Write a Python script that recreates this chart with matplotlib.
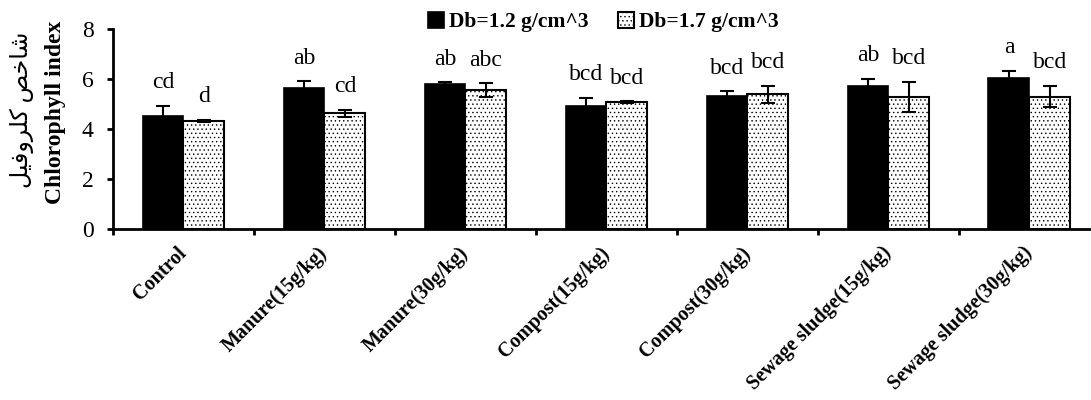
import numpy as np
import matplotlib.pyplot as plt

plt.rcParams['font.family'] = ['Liberation Serif', 'DejaVu Sans']
plt.rcParams['hatch.linewidth'] = 0.5

# data
treatments = ['Control', 'Manure(15g/kg)', 'Manure(30g/kg)', 'Compost(15g/kg)',
              'Compost(30g/kg)', 'Sewage sludge(15g/kg)', 'Sewage sludge(30g/kg)']
db12 = [4.53, 5.63, 5.79, 4.92, 5.32, 5.73, 6.05]
db12_err = [0.39, 0.29, 0.08, 0.33, 0.20, 0.28, 0.28]
db17 = [4.32, 4.63, 5.56, 5.09, 5.39, 5.29, 5.29]
db17_err = [0.05, 0.15, 0.27, 0.03, 0.33, 0.60, 0.43]
letters12 = ['cd', 'ab', 'ab', 'bcd', 'bcd', 'ab', 'a']
letters17 = ['d', 'cd', 'abc', 'bcd', 'bcd', 'bcd', 'bcd']

# Persian label "شاخص کلروفیل" in presentation forms, visual order
fa_label = '\uFEDE\uFEF4\uFED3\uFEED\uFEAE\uFEE0\uFEDB \uFEBA\uFEA7\uFE8E\uFEB7'

fig = plt.figure(figsize=(10.91, 4.0), dpi=100)
ax = fig.add_axes([113 / 1091, 1 - 229 / 400, 977 / 1091, 200 / 400])

x = np.arange(len(treatments))
w = 0.29
ax.bar(x - w / 2, db12, w, color='black', edgecolor='black', linewidth=1.2,
       label='Db=1.2 g/cm^3')
ax.bar(x + w / 2, db17, w, color='white', edgecolor='black', linewidth=1.5,
       hatch='....', label='Db=1.7 g/cm^3')
ax.errorbar(x - w / 2, db12, yerr=db12_err, fmt='none', ecolor='black',
            elinewidth=1.5, capsize=5, capthick=1.5)
ax.errorbar(x + w / 2, db17, yerr=db17_err, fmt='none', ecolor='black',
            elinewidth=1.5, capsize=5, capthick=1.5)

for i in range(len(treatments)):
    ax.text(x[i] - w / 2, db12[i] + db12_err[i] + 0.7, letters12[i],
            ha='center', va='baseline', fontsize=17)
    ax.text(x[i] + w / 2, db17[i] + db17_err[i] + 0.7, letters17[i],
            ha='center', va='baseline', fontsize=17)

ax.set_ylim(0, 8)
ax.set_xlim(-0.5, 6.43)
ax.set_yticks([0, 2, 4, 6, 8])
ax.tick_params(axis='y', labelsize=17, direction='out', length=4, width=2,
               pad=10)
ax.set_xticks(x)
ax.set_xticklabels(treatments, rotation=45, ha='right', va='center',
                   rotation_mode='anchor', fontsize=14.5, fontweight='bold')
ax.tick_params(axis='x', length=0, pad=15)
ax.set_xticks(np.arange(-0.5, 6.0, 1.0), minor=True)
ax.tick_params(axis='x', which='minor', direction='out', length=4, width=2)

for s in ['top', 'right']:
    ax.spines[s].set_visible(False)
for s in ['left', 'bottom']:
    ax.spines[s].set_linewidth(2)

fig.text(55 / 1091, 1 - 112 / 400, 'Chlorophyll index', rotation=90,
         ha='center', va='center', fontsize=17, fontweight='bold')
fig.text(22 / 1091, 1 - 110 / 400, fa_label, rotation=90, ha='center',
         va='center', fontsize=17)

fig.legend(loc='center', bbox_to_anchor=(0.553, 0.945), ncol=2, frameon=False,
           prop={'weight': 'bold', 'size': 15.5}, handlelength=0.75,
           handleheight=0.75, handletextpad=0.2, columnspacing=1.4)

fig.savefig('out.png', dpi=100)
